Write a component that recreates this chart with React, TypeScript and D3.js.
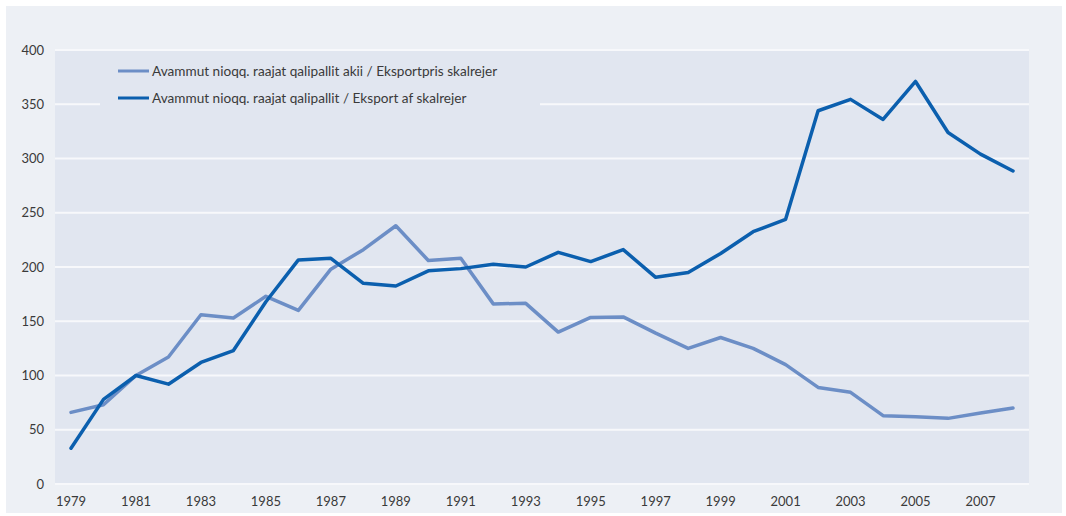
import React from "react";
import * as d3 from "d3";

const years: number[] = [1979,1980,1981,1982,1983,1984,1985,1986,1987,1988,1989,1990,1991,1992,1993,1994,1995,1996,1997,1998,1999,2000,2001,2002,2003,2004,2005,2006,2007,2008];
const priceSeries: number[] = [66,73,100,117,156,153,173,160,198,216,238,206,208,166,166.5,140,153.5,154,139,125,135,125,110,89,84.5,63,62,60.5,65.5,70];
const exportSeries: number[] = [33,78,100,92,112,123,168,206.5,208,185,182.5,196.5,198.5,202.5,200,213.5,205,216,190.5,195,212.5,232.5,244,344,354.5,336,371,324,304,288.5];
const yTicks: number[] = [0,50,100,150,200,250,300,350,400];
const xTickYears: number[] = [1979,1981,1983,1985,1987,1989,1991,1993,1995,1997,1999,2001,2003,2005,2007];
const legendLabels: string[] = [
  "Avammut nioqq. raajat qalipallit akii / Eksportpris skalrejer",
  "Avammut nioqq. raajat qalipallit / Eksport af skalrejer",
];

const W = 1066, H = 516;
const plotL = 55, plotR = 1029, plotT = 50, plotB = 484;
const lightColor = "#6c8ec6";
const darkColor = "#0b5fae";
const font = "Lato, 'Open Sans', sans-serif";

export default function App() {
  const x = d3.scaleLinear().domain([1979, 2008]).range([71, 1013]);
  const y = d3.scaleLinear().domain([0, 400]).range([plotB, plotT]);
  const line = d3.line<number>().x((_, i) => x(years[i])).y((d) => y(d));

  return (
    <svg width={W} height={H} style={{ position: "absolute", left: 0, top: 0, display: "block" }}>
      <rect x={0} y={0} width={W} height={H} fill="#ffffff" />
      <rect x={6} y={6} width={1056} height={507} fill="#edf0f5" />
      <rect x={plotL} y={plotT} width={plotR - plotL} height={plotB - plotT} fill="#e1e6f0" />
      {yTicks.map((t) => (
        <line key={"g" + t} x1={plotL} x2={plotR} y1={y(t)} y2={y(t)} stroke="#f7f8fb" strokeWidth={2} />
      ))}
      {/* legend box covering gridlines */}
      <rect x={100} y={55} width={440} height={58} fill="#e1e6f0" />
      {yTicks.map((t) => (
        <text key={"y" + t} x={44} y={y(t)} dy="0.35em" textAnchor="end" fontFamily={font} fontSize={13} fill="#3a3a3a">
          {t}
        </text>
      ))}
      {xTickYears.map((yr) => (
        <text key={"x" + yr} x={x(yr)} y={506} textAnchor="middle" fontFamily={font} fontSize={13} fill="#3a3a3a">
          {yr}
        </text>
      ))}
      <path d={line(priceSeries) || ""} fill="none" stroke={lightColor} strokeWidth={3.5} strokeLinejoin="round" strokeLinecap="round" />
      <path d={line(exportSeries) || ""} fill="none" stroke={darkColor} strokeWidth={3.5} strokeLinejoin="round" strokeLinecap="round" />
      {legendLabels.map((lab, i) => (
        <g key={lab} transform={`translate(0, ${71 + i * 27})`}>
          <line x1={118} x2={149} y1={0} y2={0} stroke={i === 0 ? lightColor : darkColor} strokeWidth={3} />
          <text x={152} y={0} dy="0.35em" fontFamily={font} fontSize={13.6} fill="#3a3a3a">
            {lab}
          </text>
        </g>
      ))}
    </svg>
  );
}
